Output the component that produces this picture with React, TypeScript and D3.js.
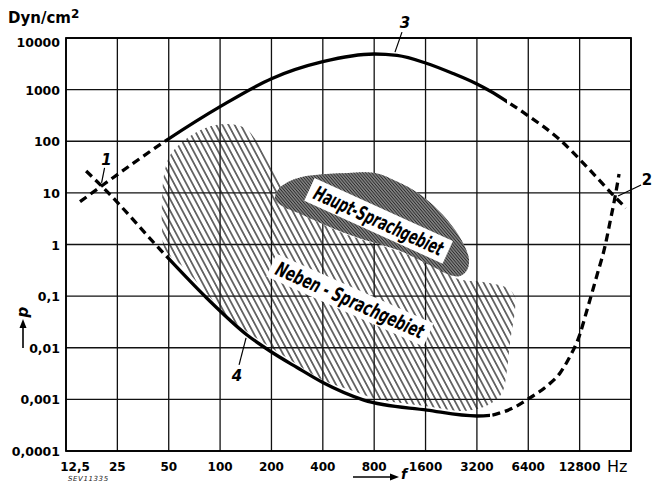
import React from "react";
import * as d3 from "d3";

// ---- axes ----
const freqGrid = [12.5, 25, 50, 100, 200, 400, 800, 1600, 3200, 6400, 12800, 25600];
const freqLabels = ["12,5", "25", "50", "100", "200", "400", "800", "1600", "3200", "6400", "12800"];
const pressureGrid = [10000, 1000, 100, 10, 1, 0.1, 0.01, 0.001, 0.0001];
const pressureLabels = ["10000", "1000", "100", "10", "1", "0,1", "0,01", "0,001", "0,0001"];

// ---- curve 3 (upper limit) [Hz, dyn/cm²] ----
const curve3DashedLow = [[15.1, 6.75], [20.2, 13.6], [48.9, 106]];
const curve3Solid = [
  [48.9, 106], [100, 467], [200, 1629], [400, 3475], [800, 4900], [1089, 4585],
  [1600, 3280], [2318, 2052], [3200, 1285], [3820, 940], [4800, 589],
];
const curve3DashedHigh = [[4800, 589], [6300, 322], [9830, 106], [14140, 31.7], [20640, 8.3], [23900, 5.1]];

// ---- curve 4 (threshold) ----
const curve4DashedLow = [[16.4, 26.5], [20.2, 13.6], [48.9, 0.573]];
const curve4Solid = [
  [48.9, 0.573], [84, 0.09], [143.9, 0.0177], [196, 0.00865], [282.5, 0.00414], [400, 0.00212],
  [696, 0.00097], [1633, 0.00062], [3200, 0.000476], [3820, 0.00049],
];
const curve4DashedHigh = [
  [3820, 0.00049], [4371, 0.000545], [5210, 0.00068], [6400, 0.00102], [8240, 0.00182], [9830, 0.00324],
  [10950, 0.0058], [12800, 0.0177], [14140, 0.0539], [16190, 0.257], [18040, 0.935], [19290, 2.73],
  [20640, 8.3], [21790, 23.2],
];

// ---- speech areas ----
const nebenArea = [
  [51, 54], [62, 106], [82, 181], [110, 216], [140, 181], [162, 106], [183, 54], [204, 30], [231, 14.2],
  [225, 8.0], [294, 4.1], [505, 1.75], [1134, 0.72], [1945, 0.35], [2480, 0.215], [3475, 0.188],
  [4800, 0.144], [5350, 0.096], [5350, 0.054], [5000, 0.0124], [4800, 0.0037], [4490, 0.00133],
  [3820, 0.00081], [2800, 0.0006], [1633, 0.00074], [831, 0.00102], [579, 0.00152], [400, 0.00237],
  [282, 0.0048], [196, 0.0103], [144, 0.0205], [110, 0.041], [84, 0.11], [60.6, 0.37], [47.6, 0.78],
  [45.7, 1.91], [45.7, 7.3], [46.9, 22.2],
];
const hauptArea = [
  [210, 7.6], [218, 11.4], [250, 16.2], [302, 20.3], [360, 22.2], [562, 24.3], [809, 24.3], [1104, 16.2],
  [1446, 9.9], [1894, 4.66], [2383, 1.91], [2725, 0.89], [2877, 0.5], [2800, 0.32], [2548, 0.245],
  [2228, 0.257], [1746, 0.38], [1104, 0.78], [707, 1.22], [518, 1.75], [375, 2.73], [286, 4.1], [231, 5.57],
];

// ---- annotations ----
const areaNames = ["Haupt-Sprachgebiet", "Neben - Sprachgebiet"];
const areaLabelAnchors = [[849, 2.88], [577, 0.084]];
const curveNames = ["1", "2", "3", "4"];
const curveNameAnchors = [[20.2, 13.6], [20640, 8.3], [1045, 4650], [143.9, 0.0177]];

const W = 652;
const H = 484;
const x = d3.scaleLog().domain([12.5, 25600]).range([66, 631]);
const y = d3.scaleLog().domain([0.0001, 10000]).range([451, 38]);

const line = d3
  .line<number[]>()
  .x((d) => x(d[0]))
  .y((d) => y(d[1]))
  .curve(d3.curveMonotoneX);
const closed = d3
  .line<number[]>()
  .x((d) => x(d[0]))
  .y((d) => y(d[1]))
  .curve(d3.curveCatmullRomClosed.alpha(0.5));

const join = (...parts: number[][][]) => parts.reduce((acc, p, i) => acc.concat(i === 0 ? p : p.slice(1)), [] as number[][]);
const curve3All = join(curve3DashedLow, curve3Solid, curve3DashedHigh);
const curve4All = join(curve4DashedLow, curve4Solid, curve4DashedHigh);

const tickFont = "'DejaVu Sans', sans-serif";
const labelFont = "'DejaVu Sans Condensed', 'DejaVu Sans', sans-serif";

// label layout (pixel offsets)
const curveNameLayout = [
  { tx: 5, ty: -26, l1: [3, -18], l2: [0, -3] },
  { tx: 32, ty: -17, l1: [26, -12], l2: [3, -1] },
  { tx: 11, ty: -32, l1: [8, -23], l2: [1, -3] },
  { tx: -10, ty: 41, l1: [-8, 30], l2: [-1, 3] },
];
const areaLayout = [
  { angle: 24.5, bw: 152, bh: 25, tl: 140, fs: 20 },
  { angle: 24, bw: 172, bh: 25, tl: 160, fs: 20 },
];

export default function App() {
  const curveStyle = { fill: "none", stroke: "#000", strokeWidth: 3.3, strokeLinecap: "butt" as const };
  const dash = "8 5";
  const s3a = x(curve3Solid[0][0]);
  const s3b = x(curve3Solid[curve3Solid.length - 1][0]);
  const s4a = x(curve4Solid[0][0]);
  const s4b = x(curve4Solid[curve4Solid.length - 1][0]);
  return (
    <svg width={W} height={H} style={{ position: "absolute", left: 0, top: 0, background: "#fff" }}>
      <defs>
        <pattern id="nebenHatch" patternUnits="userSpaceOnUse" width={5.4} height={10} patternTransform="rotate(-28)">
          <line x1={2.7} y1={0} x2={2.7} y2={10} stroke="#1c1c1c" strokeWidth={1.25} />
        </pattern>
        <pattern id="hauptHatch" patternUnits="userSpaceOnUse" width={2.3} height={10} patternTransform="rotate(-40)">
          <line x1={1.15} y1={0} x2={1.15} y2={10} stroke="#2a2a2a" strokeWidth={1.0} />
        </pattern>
        <clipPath id="c3solid">
          <rect x={s3a} y={0} width={s3b - s3a} height={H} />
        </clipPath>
        <clipPath id="c3dash">
          <rect x={0} y={0} width={s3a} height={H} />
          <rect x={s3b} y={0} width={W - s3b} height={H} />
        </clipPath>
        <clipPath id="c4solid">
          <rect x={s4a} y={0} width={s4b - s4a} height={H} />
        </clipPath>
        <clipPath id="c4dash">
          <rect x={0} y={0} width={s4a} height={H} />
          <rect x={s4b} y={0} width={W - s4b} height={H} />
        </clipPath>
      </defs>
      <rect x={0} y={0} width={W} height={H} fill="#fff" />

      {/* grid */}
      {freqGrid.map((f, i) => (
        <line key={"v" + i} x1={x(f)} x2={x(f)} y1={y(10000)} y2={y(0.0001)} stroke="#111" strokeWidth={1.3} />
      ))}
      {pressureGrid.map((p, i) => (
        <line key={"h" + i} x1={x(12.5)} x2={x(25600)} y1={y(p)} y2={y(p)} stroke="#111" strokeWidth={1.3} />
      ))}
      <rect x={x(12.5)} y={y(10000)} width={x(25600) - x(12.5)} height={y(0.0001) - y(10000)} fill="none" stroke="#000" strokeWidth={1.8} />

      {/* areas */}
      <path d={closed(nebenArea) || ""} fill="url(#nebenHatch)" />
      <path d={closed(hauptArea) || ""} fill="#8c8c8c" />
      <path d={closed(hauptArea) || ""} fill="url(#hauptHatch)" />

      {areaNames.map((name, i) => {
        const [f, p] = areaLabelAnchors[i];
        const L = areaLayout[i];
        const cx = x(f);
        const cy = y(p);
        return (
          <g key={name} transform={`translate(${cx},${cy}) rotate(${L.angle})`}>
            <rect x={-L.bw / 2} y={-L.bh / 2} width={L.bw} height={L.bh} fill="#fff" />
            <text
              x={0}
              y={7}
              textAnchor="middle"
              fontFamily={labelFont}
              fontWeight="bold"
              fontStyle="italic"
              fontSize={L.fs}
              textLength={L.tl}
              lengthAdjust="spacingAndGlyphs"
              fill="#000"
            >
              {name}
            </text>
          </g>
        );
      })}

      {/* curves: one smooth path each, solid in the middle and dashed at the ends */}
      <path d={line(curve3All) || ""} {...curveStyle} clipPath="url(#c3solid)" />
      <path d={line(curve3All) || ""} {...curveStyle} strokeDasharray={dash} clipPath="url(#c3dash)" />
      <path d={line(curve4All) || ""} {...curveStyle} clipPath="url(#c4solid)" />
      <path d={line(curve4All) || ""} {...curveStyle} strokeDasharray={dash} clipPath="url(#c4dash)" />

      {/* curve numbers */}
      {curveNames.map((n, i) => {
        const [f, p] = curveNameAnchors[i];
        const px = x(f);
        const py = y(p);
        const L = curveNameLayout[i];
        return (
          <g key={"c" + n}>
            <line x1={px + L.l1[0]} y1={py + L.l1[1]} x2={px + L.l2[0]} y2={py + L.l2[1]} stroke="#000" strokeWidth={1.2} />
            <text
              x={px + L.tx}
              y={py + L.ty + 5}
              textAnchor="middle"
              fontFamily={tickFont}
              fontWeight="bold"
              fontStyle={i === 1 ? "normal" : "italic"}
              fontSize={15}
            >
              {n}
            </text>
          </g>
        );
      })}

      {/* y tick labels */}
      {pressureGrid.map((p, i) => (
        <text
          key={"yl" + i}
          x={60}
          y={y(p) + (i === 0 ? 9 : 5)}
          textAnchor="end"
          fontFamily={tickFont}
          fontWeight="bold"
          fontSize={12.5}
          fill="#000"
        >
          {pressureLabels[i]}
        </text>
      ))}
      {/* x tick labels */}
      {freqLabels.map((s, i) => (
        <text
          key={"xl" + i}
          x={x(freqGrid[i]) + (i === 0 ? 9 : 0)}
          y={471}
          textAnchor="middle"
          fontFamily={tickFont}
          fontWeight="bold"
          fontSize={12}
          fill="#000"
        >
          {s}
        </text>
      ))}
      <text x={607} y={472} fontFamily={tickFont} fontSize={16} fill="#000">
        Hz
      </text>

      {/* unit */}
      <text x={8} y={23} fontFamily={tickFont} fontWeight="bold" fontSize={15} fill="#000">
        Dyn/cm
        <tspan fontSize={12} dy={-5}>
          2
        </tspan>
      </text>

      {/* axis arrows */}
      <line x1={23} y1={348} x2={23} y2={326} stroke="#000" strokeWidth={1.6} />
      <path d="M23,319 L19.5,328 L26.5,328 Z" fill="#000" />
      <text transform="translate(28,312) rotate(-90)" fontFamily={tickFont} fontWeight="bold" fontStyle="italic" fontSize={15} textAnchor="middle">
        p
      </text>
      <line x1={353} y1={477} x2={392} y2={477} stroke="#000" strokeWidth={1.6} />
      <path d="M399,477 L390,473.5 L390,480.5 Z" fill="#000" />
      <text x={404} y={479} fontFamily={tickFont} fontWeight="bold" fontStyle="italic" fontSize={14} textAnchor="middle">
        f
      </text>

      <text x={68} y={481} fontFamily={tickFont} fontStyle="italic" fontSize={7} letterSpacing={0.6} fill="#222">
        SEV11335
      </text>
    </svg>
  );
}
